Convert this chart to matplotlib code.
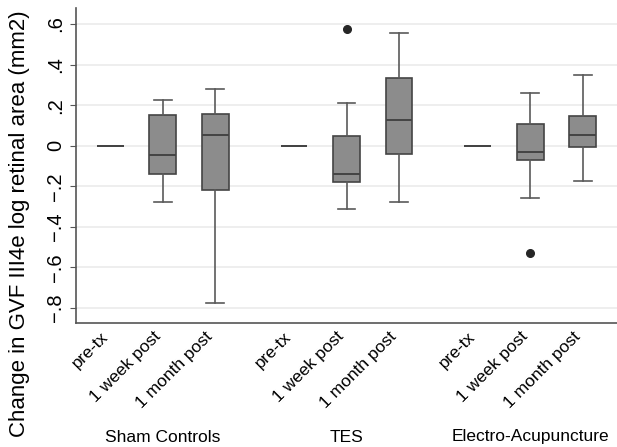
import numpy as np
import matplotlib.pyplot as plt
import matplotlib.transforms as mtransforms

plt.rcParams['font.family'] = ['Liberation Sans', 'DejaVu Sans']

# box plot summary values
groups = ["Sham Controls", "TES", "Electro-Acupuncture"]
times = ["pre-tx", "1 week post", "1 month post"]
positions = [0, 1, 2, 3.5, 4.5, 5.5, 7, 8, 9]

whislo = [0, -0.277, -0.777, 0, -0.313, -0.277, 0, -0.258, -0.173]
q1 = [0, -0.138, -0.219, 0, -0.178, -0.040, 0, -0.069, -0.005]
med = [0, -0.048, 0.054, 0, -0.140, 0.125, 0, -0.030, 0.053]
q3 = [0, 0.152, 0.156, 0, 0.046, 0.336, 0, 0.107, 0.147]
whishi = [0, 0.224, 0.281, 0, 0.211, 0.556, 0, 0.260, 0.351]
fliers = [[], [], [], [], [0.576], [], [], [-0.530], []]

yticks = [-0.8, -0.6, -0.4, -0.2, 0, 0.2, 0.4, 0.6]
yticklabels = ["\u2212.8", "\u2212.6", "\u2212.4", "\u2212.2", "0", ".2", ".4", ".6"]

stats = []
for i in range(len(positions)):
    stats.append(dict(whislo=whislo[i], q1=q1[i], med=med[i], q3=q3[i],
                      whishi=whishi[i], fliers=fliers[i]))

fig = plt.figure(figsize=(6.17, 4.47), dpi=100)
ax = fig.add_axes([76/617, 124/447, 1 - 76/617, 315/447])

edge = "#444444"
ax.bxp(stats, positions=positions, widths=0.51, capwidths=0.34,
       patch_artist=True, manage_ticks=False,
       boxprops=dict(facecolor="#8c8c8c", edgecolor=edge, linewidth=1.2),
       medianprops=dict(color=edge, linewidth=1.4),
       whiskerprops=dict(color="#5a5a5a", linewidth=1.2),
       capprops=dict(color="#5a5a5a", linewidth=1.2),
       flierprops=dict(marker="o", markersize=5.5, markerfacecolor="#262626",
                       markeredgecolor="#262626"))

ax.set_xlim(-0.65, 9.65)
ax.set_ylim(-0.874, 0.679)
ax.set_yticks(yticks)
ax.set_yticklabels(yticklabels, rotation=90, va="center", fontsize=14.5)
ax.yaxis.grid(True, color="#ebebeb", linewidth=1.2)
ax.set_axisbelow(True)
ax.tick_params(axis="y", length=4, color="#555555", pad=4)
ax.tick_params(axis="x", length=0, pad=2)

ax.set_xticks(positions)
ax.set_xticklabels(times * 3, rotation=45, ha="right", rotation_mode="anchor",
                   fontsize=12.5)
shift = mtransforms.ScaledTranslation(-10/100, -3/100, fig.dpi_scale_trans)
for lab in ax.get_xticklabels():
    lab.set_transform(lab.get_transform() + shift)

for s in ["top", "right"]:
    ax.spines[s].set_visible(False)
for s in ["left", "bottom"]:
    ax.spines[s].set_color("#555555")
    ax.spines[s].set_linewidth(1.2)

trans = ax.get_xaxis_transform()
for g, x in zip(groups, [1, 4.5, 8]):
    ax.text(x, -(437 - 323) / 315, g, transform=trans, ha="center", va="center",
            fontsize=12.5)

fig.text(20/617, 1 - 224/447, "Change in GVF III4e log retinal area (mm2)",
         rotation=90, ha="center", va="center", fontsize=16)

fig.savefig("out.png", dpi=100)
